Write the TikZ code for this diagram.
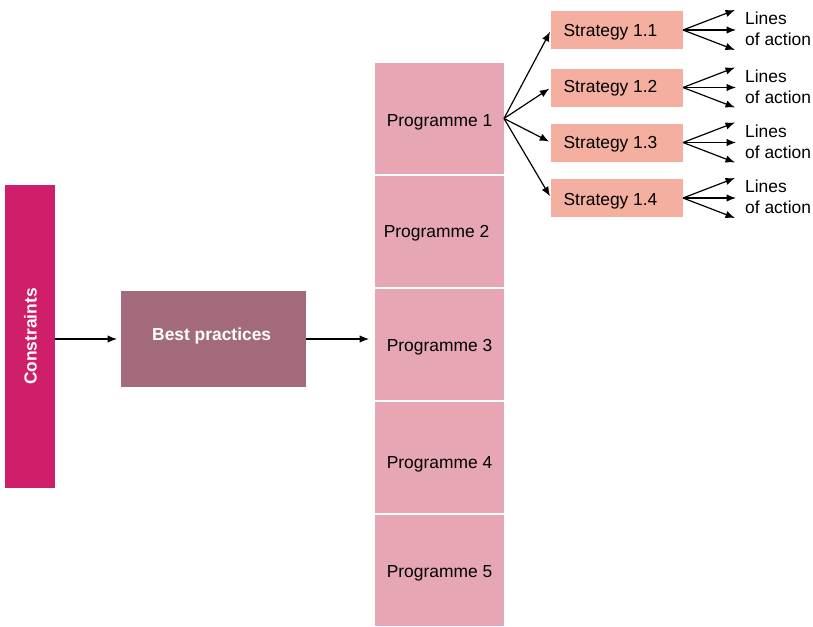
\documentclass[tikz,border=0pt]{standalone}
\usepackage{fontspec}
\setmainfont{Liberation Sans}
\usetikzlibrary{arrows.meta}
\definecolor{consc}{HTML}{D01F6A}
\definecolor{bpc}{HTML}{A36A7B}
\definecolor{progc}{HTML}{E6A6B4}
\definecolor{stratc}{HTML}{F4AFA0}
\newcommand{\shiftlab}[3]{\hspace*{#1}\raisebox{#2}{#3}\hspace*{-#1}}
\begin{document}
\begin{tikzpicture}[x=1pt,y=-1pt,
  font=\fontsize{17.4}{21}\selectfont,
  box/.style={inner sep=0pt, outer sep=0pt, draw=none, text height=12.45pt, text depth=0pt},
  prog/.style={box, fill=progc, minimum width=129pt, minimum height=111pt},
  strat/.style={box, fill=stratc, minimum width=132pt, minimum height=38pt},
  loa/.style={anchor=west, align=left, inner sep=0pt},
  arr/.style={-{Latex[length=9.5pt,width=7.5pt]}, line width=1.2pt}]
\useasboundingbox (0,0) rectangle (813,626);
% left column
\node[box, fill=consc, minimum width=50pt, minimum height=303pt] (cons) at (30,336.5) {};
\node[rotate=90, inner sep=0pt, text height=12.45pt, text depth=0pt, text=white, font=\fontsize{17.4}{21}\selectfont\bfseries] (constext) at (30.3,336.5) {Constraints};
\node[box, fill=bpc, minimum width=185pt, minimum height=96pt, text=white, font=\fontsize{17.4}{21}\selectfont\bfseries] (bp) at (213.5,339) {\shiftlab{-1.8pt}{4.7pt}{Best practices}};
% programmes
\node[prog] (p1) at (439.5,118.5) {\shiftlab{0pt}{-1.5pt}{Programme 1}};
\node[prog] (p2) at (439.5,231.5) {\shiftlab{-3pt}{-0.2pt}{Programme 2}};
\node[prog] (p3) at (439.5,344.5) {\shiftlab{0pt}{-0.8pt}{Programme 3}};
\node[prog] (p4) at (439.5,457.5) {\shiftlab{0pt}{-4.5pt}{Programme 4}};
\node[prog] (p5) at (439.5,570.5) {\shiftlab{0pt}{-0.3pt}{Programme 5}};
% strategies
\node[strat] (s1) at (617,30) {\shiftlab{-6.5pt}{-0.3pt}{Strategy 1.1}};
\node[strat] (s2) at (617,87.5) {\shiftlab{-6.5pt}{1.5pt}{Strategy 1.2}};
\node[strat] (s3) at (617,142.5) {\shiftlab{-6.5pt}{0.5pt}{Strategy 1.3}};
\node[strat] (s4) at (617,198) {\shiftlab{-6.5pt}{-1pt}{Strategy 1.4}};
% lines of action
\foreach \i/\y in {1/29,2/86.5,3/141.5,4/197}{
  \node[loa] (l\i) at (745,\y) {Lines\\of action};
}
% connectors
\draw[arr, shorten >=4pt] (cons.east |- bp.west) -- (bp.west);
\draw[arr, shorten >=6pt] (bp.east) -- (bp.east -| p3.west);
\foreach \i in {1,2,3,4}{
  \draw[arr, shorten >=2pt] (p1.east) -- (s\i.west);
  \path (s\i.east) ++(52,-20) coordinate (a\i);
  \path (s\i.east) ++(53,0) coordinate (b\i);
  \path (s\i.east) ++(52,20) coordinate (c\i);
  \draw[arr] (s\i.east) -- (a\i);
  \draw[arr] (s\i.east) -- (b\i);
  \draw[arr] (s\i.east) -- (c\i);
}
\end{tikzpicture}
\end{document}
